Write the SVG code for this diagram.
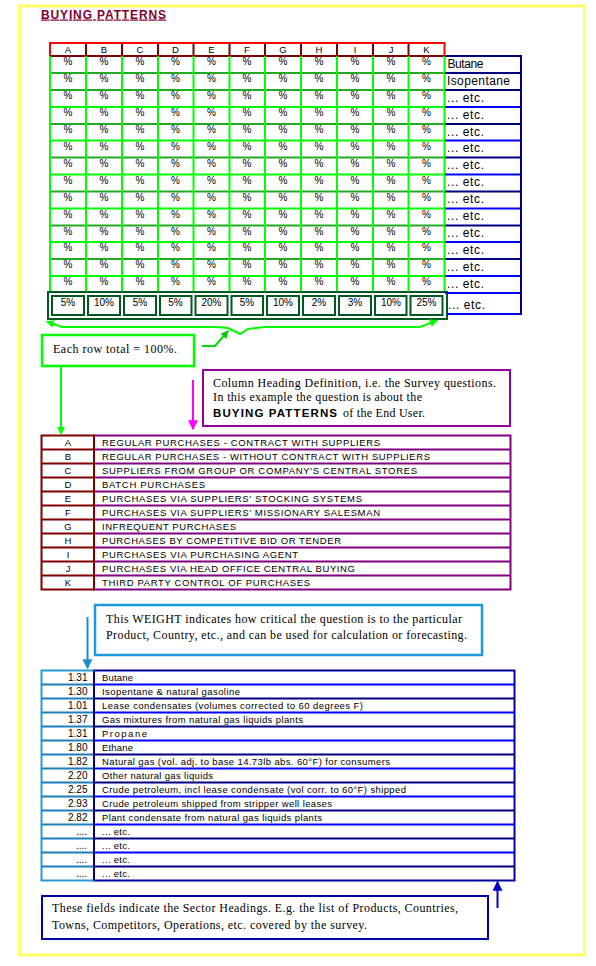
<svg xmlns="http://www.w3.org/2000/svg" width="596" height="966" viewBox="0 0 596 966">
<style>
.sans{font-family:"Liberation Sans",Arial,sans-serif;fill:#000}
.serif{font-family:"Liberation Serif","Times New Roman",serif;font-size:12px;fill:#000}
.pct{font-family:"Liberation Sans",Arial,sans-serif;font-size:10px;text-anchor:middle}
.hdr{font-family:"Liberation Sans",Arial,sans-serif;font-size:9.5px;text-anchor:middle}
.lbl{font-family:"Liberation Sans",Arial,sans-serif;font-size:12px}
.tbl{font-family:"Liberation Sans",Arial,sans-serif;font-size:9.5px}
.num{font-family:"Liberation Sans",Arial,sans-serif;font-size:10px;text-anchor:end}
.gv{stroke:#00ff00;stroke-width:2}
.gh1{stroke:#22aa22;stroke-width:2}
.gh2{stroke:#00ff00;stroke-width:2}
.bl1{stroke:#000080;stroke-width:2}
.bl2{stroke:#0000ff;stroke-width:2}
.pu{stroke:#800080;stroke-width:2}
.dr{stroke:#800000;stroke-width:2}
.tt{fill:none;stroke:#00591f;stroke-width:2}
.conn{fill:none;stroke-width:2}
</style>
<defs>
<marker id="ah-g" viewBox="0 0 8 8" refX="7" refY="4" markerWidth="4" markerHeight="4" orient="auto-start-reverse"><path d="M0,0 L8,4 L0,8 z" fill="#00ff00"/></marker>
<marker id="ah-gd" viewBox="0 0 8 8" refX="7" refY="4" markerWidth="4" markerHeight="4" orient="auto"><path d="M0,0 L8,4 L0,8 z" fill="#00cc00"/></marker>
<marker id="ah-m" viewBox="0 0 8 8" refX="7" refY="4" markerWidth="5" markerHeight="5" orient="auto"><path d="M0,0 L8,4 L0,8 z" fill="#ff00ff"/></marker>
<marker id="ah-t" viewBox="0 0 8 8" refX="7" refY="4" markerWidth="5" markerHeight="5" orient="auto"><path d="M0,0 L8,4 L0,8 z" fill="#1a8fd0"/></marker>
<marker id="ah-b" viewBox="0 0 8 8" refX="7" refY="4" markerWidth="5" markerHeight="5" orient="auto"><path d="M0,0 L8,4 L0,8 z" fill="#0000cc"/></marker>
</defs>
<rect x="0" y="0" width="596" height="966" fill="#fff"/>
<rect id="frame" x="19.5" y="6" width="565" height="949" fill="none" stroke="#ffff66" stroke-width="3"/>

<g id="title"><text class="sans" x="41" y="18.5" font-size="12" font-weight="bold" style="fill:#800030" text-decoration="underline" textLength="125" lengthAdjust="spacing">BUYING PATTERNS</text></g>

<g id="grid">
<rect x="50" y="43" width="394.5" height="13" fill="#fff" stroke="#ff0000" stroke-width="2"/>
<g class="dr">
<line x1="86" y1="43" x2="86" y2="56"/><line x1="122" y1="43" x2="122" y2="56"/><line x1="158" y1="43" x2="158" y2="56"/><line x1="193.5" y1="43" x2="193.5" y2="56"/><line x1="229.5" y1="43" x2="229.5" y2="56"/><line x1="265" y1="43" x2="265" y2="56"/><line x1="301" y1="43" x2="301" y2="56"/><line x1="337" y1="43" x2="337" y2="56"/><line x1="373" y1="43" x2="373" y2="56"/><line x1="408.5" y1="43" x2="408.5" y2="56"/>
<line x1="50" y1="56" x2="444.5" y2="56"/>
</g>
<g>
<text class="hdr" x="68" y="53">A</text><text class="hdr" x="104" y="53">B</text><text class="hdr" x="140" y="53">C</text><text class="hdr" x="175.5" y="53">D</text><text class="hdr" x="211.5" y="53">E</text><text class="hdr" x="247" y="53">F</text><text class="hdr" x="283" y="53">G</text><text class="hdr" x="319" y="53">H</text><text class="hdr" x="355" y="53">I</text><text class="hdr" x="391" y="53">J</text><text class="hdr" x="426.5" y="53">K</text>
</g>
<g>
<line class="gh1" x1="50" y1="73" x2="444.5" y2="73"/>
<line class="gh1" x1="50" y1="90" x2="444.5" y2="90"/>
<line class="gh2" x1="50" y1="107" x2="444.5" y2="107"/>
<line class="gh1" x1="50" y1="124" x2="444.5" y2="124"/>
<line class="gh2" x1="50" y1="140.5" x2="444.5" y2="140.5"/>
<line class="gh1" x1="50" y1="157.5" x2="444.5" y2="157.5"/>
<line class="gh2" x1="50" y1="174.5" x2="444.5" y2="174.5"/>
<line class="gh1" x1="50" y1="191.5" x2="444.5" y2="191.5"/>
<line class="gh2" x1="50" y1="208.5" x2="444.5" y2="208.5"/>
<line class="gh1" x1="50" y1="225.5" x2="444.5" y2="225.5"/>
<line class="gh2" x1="50" y1="242" x2="444.5" y2="242"/>
<line class="gh1" x1="50" y1="259" x2="444.5" y2="259"/>
<line class="gh2" x1="50" y1="276" x2="444.5" y2="276"/>
</g>
<g class="gv">
<line x1="50" y1="56" x2="50" y2="293"/><line x1="86" y1="56" x2="86" y2="293"/><line x1="122" y1="56" x2="122" y2="293"/><line x1="158" y1="56" x2="158" y2="293"/><line x1="193.5" y1="56" x2="193.5" y2="293"/><line x1="229.5" y1="56" x2="229.5" y2="293"/><line x1="265" y1="56" x2="265" y2="293"/><line x1="301" y1="56" x2="301" y2="293"/><line x1="337" y1="56" x2="337" y2="293"/><line x1="373" y1="56" x2="373" y2="293"/><line x1="408.5" y1="56" x2="408.5" y2="293"/><line x1="444.5" y1="56" x2="444.5" y2="293"/>
</g>
<g id="pct-rows" class="pct">
<g transform="translate(0,0)"><text x="68" y="65">%</text><text x="104" y="65">%</text><text x="140" y="65">%</text><text x="175.5" y="65">%</text><text x="211.5" y="65">%</text><text x="247" y="65">%</text><text x="283" y="65">%</text><text x="319" y="65">%</text><text x="355" y="65">%</text><text x="391" y="65">%</text><text x="426.5" y="65">%</text></g>
<g transform="translate(0,17)"><text x="68" y="65">%</text><text x="104" y="65">%</text><text x="140" y="65">%</text><text x="175.5" y="65">%</text><text x="211.5" y="65">%</text><text x="247" y="65">%</text><text x="283" y="65">%</text><text x="319" y="65">%</text><text x="355" y="65">%</text><text x="391" y="65">%</text><text x="426.5" y="65">%</text></g>
<g transform="translate(0,34)"><text x="68" y="65">%</text><text x="104" y="65">%</text><text x="140" y="65">%</text><text x="175.5" y="65">%</text><text x="211.5" y="65">%</text><text x="247" y="65">%</text><text x="283" y="65">%</text><text x="319" y="65">%</text><text x="355" y="65">%</text><text x="391" y="65">%</text><text x="426.5" y="65">%</text></g>
<g transform="translate(0,51)"><text x="68" y="65">%</text><text x="104" y="65">%</text><text x="140" y="65">%</text><text x="175.5" y="65">%</text><text x="211.5" y="65">%</text><text x="247" y="65">%</text><text x="283" y="65">%</text><text x="319" y="65">%</text><text x="355" y="65">%</text><text x="391" y="65">%</text><text x="426.5" y="65">%</text></g>
<g transform="translate(0,68)"><text x="68" y="65">%</text><text x="104" y="65">%</text><text x="140" y="65">%</text><text x="175.5" y="65">%</text><text x="211.5" y="65">%</text><text x="247" y="65">%</text><text x="283" y="65">%</text><text x="319" y="65">%</text><text x="355" y="65">%</text><text x="391" y="65">%</text><text x="426.5" y="65">%</text></g>
<g transform="translate(0,84.5)"><text x="68" y="65">%</text><text x="104" y="65">%</text><text x="140" y="65">%</text><text x="175.5" y="65">%</text><text x="211.5" y="65">%</text><text x="247" y="65">%</text><text x="283" y="65">%</text><text x="319" y="65">%</text><text x="355" y="65">%</text><text x="391" y="65">%</text><text x="426.5" y="65">%</text></g>
<g transform="translate(0,101.5)"><text x="68" y="65">%</text><text x="104" y="65">%</text><text x="140" y="65">%</text><text x="175.5" y="65">%</text><text x="211.5" y="65">%</text><text x="247" y="65">%</text><text x="283" y="65">%</text><text x="319" y="65">%</text><text x="355" y="65">%</text><text x="391" y="65">%</text><text x="426.5" y="65">%</text></g>
<g transform="translate(0,118.5)"><text x="68" y="65">%</text><text x="104" y="65">%</text><text x="140" y="65">%</text><text x="175.5" y="65">%</text><text x="211.5" y="65">%</text><text x="247" y="65">%</text><text x="283" y="65">%</text><text x="319" y="65">%</text><text x="355" y="65">%</text><text x="391" y="65">%</text><text x="426.5" y="65">%</text></g>
<g transform="translate(0,135.5)"><text x="68" y="65">%</text><text x="104" y="65">%</text><text x="140" y="65">%</text><text x="175.5" y="65">%</text><text x="211.5" y="65">%</text><text x="247" y="65">%</text><text x="283" y="65">%</text><text x="319" y="65">%</text><text x="355" y="65">%</text><text x="391" y="65">%</text><text x="426.5" y="65">%</text></g>
<g transform="translate(0,152.5)"><text x="68" y="65">%</text><text x="104" y="65">%</text><text x="140" y="65">%</text><text x="175.5" y="65">%</text><text x="211.5" y="65">%</text><text x="247" y="65">%</text><text x="283" y="65">%</text><text x="319" y="65">%</text><text x="355" y="65">%</text><text x="391" y="65">%</text><text x="426.5" y="65">%</text></g>
<g transform="translate(0,169.5)"><text x="68" y="65">%</text><text x="104" y="65">%</text><text x="140" y="65">%</text><text x="175.5" y="65">%</text><text x="211.5" y="65">%</text><text x="247" y="65">%</text><text x="283" y="65">%</text><text x="319" y="65">%</text><text x="355" y="65">%</text><text x="391" y="65">%</text><text x="426.5" y="65">%</text></g>
<g transform="translate(0,186)"><text x="68" y="65">%</text><text x="104" y="65">%</text><text x="140" y="65">%</text><text x="175.5" y="65">%</text><text x="211.5" y="65">%</text><text x="247" y="65">%</text><text x="283" y="65">%</text><text x="319" y="65">%</text><text x="355" y="65">%</text><text x="391" y="65">%</text><text x="426.5" y="65">%</text></g>
<g transform="translate(0,203)"><text x="68" y="65">%</text><text x="104" y="65">%</text><text x="140" y="65">%</text><text x="175.5" y="65">%</text><text x="211.5" y="65">%</text><text x="247" y="65">%</text><text x="283" y="65">%</text><text x="319" y="65">%</text><text x="355" y="65">%</text><text x="391" y="65">%</text><text x="426.5" y="65">%</text></g>
<g transform="translate(0,220)"><text x="68" y="65">%</text><text x="104" y="65">%</text><text x="140" y="65">%</text><text x="175.5" y="65">%</text><text x="211.5" y="65">%</text><text x="247" y="65">%</text><text x="283" y="65">%</text><text x="319" y="65">%</text><text x="355" y="65">%</text><text x="391" y="65">%</text><text x="426.5" y="65">%</text></g>
</g>
</g>

<g id="totals">
<rect class="tt" x="48" y="292" width="399" height="27"/>
<rect class="tt" x="52" y="296" width="32" height="19"/><rect class="tt" x="88" y="296" width="32" height="19"/><rect class="tt" x="124" y="296" width="32" height="19"/><rect class="tt" x="160" y="296" width="31.5" height="19"/><rect class="tt" x="195.5" y="296" width="32" height="19"/><rect class="tt" x="231.5" y="296" width="31.5" height="19"/><rect class="tt" x="267" y="296" width="32" height="19"/><rect class="tt" x="303" y="296" width="32" height="19"/><rect class="tt" x="339" y="296" width="32" height="19"/><rect class="tt" x="375" y="296" width="31.5" height="19"/><rect class="tt" x="410.5" y="296" width="32" height="19"/>
<g class="pct">
<text x="68" y="306">5%</text><text x="104" y="306">10%</text><text x="140" y="306">5%</text><text x="175.5" y="306">5%</text><text x="211.5" y="306">20%</text><text x="247" y="306">5%</text><text x="283" y="306">10%</text><text x="319" y="306">2%</text><text x="355" y="306">3%</text><text x="391" y="306">10%</text><text x="426.5" y="306">25%</text>
</g>
</g>

<g id="row-labels">
<line class="bl1" x1="445" y1="56" x2="521" y2="56"/>
<line class="bl1" x1="445" y1="73" x2="521" y2="73"/>
<line class="bl1" x1="445" y1="90" x2="521" y2="90"/>
<line class="bl2" x1="445" y1="107" x2="521" y2="107"/>
<line class="bl1" x1="445" y1="124" x2="521" y2="124"/>
<line class="bl2" x1="445" y1="140.5" x2="521" y2="140.5"/>
<line class="bl1" x1="445" y1="157.5" x2="521" y2="157.5"/>
<line class="bl2" x1="445" y1="174.5" x2="521" y2="174.5"/>
<line class="bl1" x1="445" y1="191.5" x2="521" y2="191.5"/>
<line class="bl2" x1="445" y1="208.5" x2="521" y2="208.5"/>
<line class="bl1" x1="445" y1="225.5" x2="521" y2="225.5"/>
<line class="bl2" x1="445" y1="242" x2="521" y2="242"/>
<line class="bl1" x1="445" y1="259" x2="521" y2="259"/>
<line class="bl2" x1="445" y1="276" x2="521" y2="276"/>
<line class="bl2" x1="445" y1="293" x2="521" y2="293"/>
<line class="bl2" x1="447" y1="314" x2="521" y2="314"/>
<line class="bl1" x1="521" y1="55" x2="521" y2="315"/>
<text class="lbl" x="447.5" y="67.5" textLength="36" lengthAdjust="spacing">Butane</text>
<text class="lbl" x="447" y="84.5" textLength="63" lengthAdjust="spacing">Isopentane</text>
<text class="lbl" x="447" y="101.5" textLength="37" lengthAdjust="spacing">... etc.</text>
<text class="lbl" x="447" y="118.5" textLength="37" lengthAdjust="spacing">... etc.</text>
<text class="lbl" x="447" y="135.5" textLength="37" lengthAdjust="spacing">... etc.</text>
<text class="lbl" x="447" y="152" textLength="37" lengthAdjust="spacing">... etc.</text>
<text class="lbl" x="447" y="169" textLength="37" lengthAdjust="spacing">... etc.</text>
<text class="lbl" x="447" y="186" textLength="37" lengthAdjust="spacing">... etc.</text>
<text class="lbl" x="447" y="203" textLength="37" lengthAdjust="spacing">... etc.</text>
<text class="lbl" x="447" y="220" textLength="37" lengthAdjust="spacing">... etc.</text>
<text class="lbl" x="447" y="237" textLength="37" lengthAdjust="spacing">... etc.</text>
<text class="lbl" x="447" y="253.5" textLength="37" lengthAdjust="spacing">... etc.</text>
<text class="lbl" x="447" y="270.5" textLength="37" lengthAdjust="spacing">... etc.</text>
<text class="lbl" x="447" y="287.5" textLength="37" lengthAdjust="spacing">... etc.</text>
<text class="lbl" x="448" y="308.5" textLength="37" lengthAdjust="spacing">... etc.</text>
</g>

<g id="callout-rowtotal">
<rect x="42" y="335" width="152" height="31" fill="#fff" stroke="#00ff00" stroke-width="2.5"/>
<text class="serif" x="53" y="353" textLength="124" lengthAdjust="spacing">Each row total = 100%.</text>
</g>

<g id="callout-heading">
<rect x="203" y="370" width="307" height="56" fill="#fff" stroke="#990099" stroke-width="2"/>
<text class="serif" x="213" y="386.5" textLength="283" lengthAdjust="spacing">Column Heading Definition, i.e. the Survey questions.</text>
<text class="serif" x="213" y="400.5" textLength="209" lengthAdjust="spacing">In this example the question is about the</text>
<text class="sans" x="213" y="417" font-size="11.5" font-weight="bold" textLength="124" lengthAdjust="spacing">BUYING PATTERNS</text>
<text class="serif" x="343" y="417" textLength="82" lengthAdjust="spacing">of the End User.</text>
</g>

<g id="definitions">
<rect x="94" y="435.5" width="416.5" height="154" fill="#fff" stroke="#800080" stroke-width="2"/>
<g class="pu">
<line x1="94" y1="449.5" x2="510.5" y2="449.5"/><line x1="94" y1="463.5" x2="510.5" y2="463.5"/><line x1="94" y1="477.5" x2="510.5" y2="477.5"/><line x1="94" y1="491.5" x2="510.5" y2="491.5"/><line x1="94" y1="505.5" x2="510.5" y2="505.5"/><line x1="94" y1="519.5" x2="510.5" y2="519.5"/><line x1="94" y1="533.5" x2="510.5" y2="533.5"/><line x1="94" y1="547.5" x2="510.5" y2="547.5"/><line x1="94" y1="561.5" x2="510.5" y2="561.5"/><line x1="94" y1="575.5" x2="510.5" y2="575.5"/>
</g>
<rect x="41.5" y="435.5" width="52.5" height="154" fill="none" stroke="#800000" stroke-width="2"/>
<g class="dr">
<line x1="41.5" y1="449.5" x2="94" y2="449.5"/><line x1="41.5" y1="463.5" x2="94" y2="463.5"/><line x1="41.5" y1="477.5" x2="94" y2="477.5"/><line x1="41.5" y1="491.5" x2="94" y2="491.5"/><line x1="41.5" y1="505.5" x2="94" y2="505.5"/><line x1="41.5" y1="519.5" x2="94" y2="519.5"/><line x1="41.5" y1="533.5" x2="94" y2="533.5"/><line x1="41.5" y1="547.5" x2="94" y2="547.5"/><line x1="41.5" y1="561.5" x2="94" y2="561.5"/><line x1="41.5" y1="575.5" x2="94" y2="575.5"/>
</g>
<g class="hdr">
<text x="68" y="446">A</text><text x="68" y="460">B</text><text x="68" y="474">C</text><text x="68" y="488">D</text><text x="68" y="502">E</text><text x="68" y="516">F</text><text x="68" y="530">G</text><text x="68" y="544">H</text><text x="68" y="558">I</text><text x="68" y="572">J</text><text x="68" y="586">K</text>
</g>
<g class="tbl">
<text x="102" y="446" textLength="278" lengthAdjust="spacing">REGULAR PURCHASES - CONTRACT WITH SUPPLIERS</text>
<text x="102" y="460" textLength="328" lengthAdjust="spacing">REGULAR PURCHASES - WITHOUT CONTRACT WITH SUPPLIERS</text>
<text x="102" y="474" textLength="315" lengthAdjust="spacing">SUPPLIERS FROM GROUP OR COMPANY'S CENTRAL STORES</text>
<text x="102" y="488" textLength="103" lengthAdjust="spacing">BATCH PURCHASES</text>
<text x="102" y="502" textLength="260" lengthAdjust="spacing">PURCHASES VIA SUPPLIERS' STOCKING SYSTEMS</text>
<text x="102" y="516" textLength="278" lengthAdjust="spacing">PURCHASES VIA SUPPLIERS' MISSIONARY SALESMAN</text>
<text x="102" y="530" textLength="134" lengthAdjust="spacing">INFREQUENT PURCHASES</text>
<text x="102" y="544" textLength="239" lengthAdjust="spacing">PURCHASES BY COMPETITIVE BID OR TENDER</text>
<text x="102" y="558" textLength="196" lengthAdjust="spacing">PURCHASES VIA PURCHASING AGENT</text>
<text x="102" y="572" textLength="253" lengthAdjust="spacing">PURCHASES VIA HEAD OFFICE CENTRAL BUYING</text>
<text x="102" y="586" textLength="208" lengthAdjust="spacing">THIRD PARTY CONTROL OF PURCHASES</text>
</g>
</g>

<g id="callout-weight">
<rect x="95" y="605" width="387" height="50" fill="#fff" stroke="#1a9ad6" stroke-width="2.5"/>
<text class="serif" x="106" y="623" textLength="356" lengthAdjust="spacing">This WEIGHT indicates how critical the question is to the particular</text>
<text class="serif" x="106" y="639" textLength="361" lengthAdjust="spacing">Product, Country, etc., and can be used for calculation or forecasting.</text>
</g>

<g id="weights">
<rect x="94" y="670.5" width="420.5" height="210" fill="#fff" stroke="#0000a0" stroke-width="2"/>
<g>
<line class="bl2" x1="94" y1="684.5" x2="514.5" y2="684.5"/><line class="bl1" x1="94" y1="698.5" x2="514.5" y2="698.5"/><line class="bl2" x1="94" y1="712.5" x2="514.5" y2="712.5"/><line class="bl1" x1="94" y1="726.5" x2="514.5" y2="726.5"/><line class="bl2" x1="94" y1="740.5" x2="514.5" y2="740.5"/><line class="bl1" x1="94" y1="754.5" x2="514.5" y2="754.5"/><line class="bl2" x1="94" y1="768.5" x2="514.5" y2="768.5"/><line class="bl1" x1="94" y1="782.5" x2="514.5" y2="782.5"/><line class="bl2" x1="94" y1="796.5" x2="514.5" y2="796.5"/><line class="bl1" x1="94" y1="810.5" x2="514.5" y2="810.5"/><line class="bl2" x1="94" y1="824.5" x2="514.5" y2="824.5"/><line class="bl1" x1="94" y1="838.5" x2="514.5" y2="838.5"/><line class="bl2" x1="94" y1="852.5" x2="514.5" y2="852.5"/><line class="bl1" x1="94" y1="866.5" x2="514.5" y2="866.5"/>
</g>
<rect x="41.5" y="670.5" width="52.5" height="210" fill="none" stroke="#2a9bd0" stroke-width="2"/>
<g stroke="#1e7fb8" stroke-width="2">
<line x1="41.5" y1="684.5" x2="94" y2="684.5"/><line x1="41.5" y1="698.5" x2="94" y2="698.5"/><line x1="41.5" y1="712.5" x2="94" y2="712.5"/><line x1="41.5" y1="726.5" x2="94" y2="726.5"/><line x1="41.5" y1="740.5" x2="94" y2="740.5"/><line x1="41.5" y1="754.5" x2="94" y2="754.5"/><line x1="41.5" y1="768.5" x2="94" y2="768.5"/><line x1="41.5" y1="782.5" x2="94" y2="782.5"/><line x1="41.5" y1="796.5" x2="94" y2="796.5"/><line x1="41.5" y1="810.5" x2="94" y2="810.5"/><line x1="41.5" y1="824.5" x2="94" y2="824.5"/><line x1="41.5" y1="838.5" x2="94" y2="838.5"/><line x1="41.5" y1="852.5" x2="94" y2="852.5"/><line x1="41.5" y1="866.5" x2="94" y2="866.5"/>
</g>
<line x1="94" y1="670.5" x2="94" y2="880.5" stroke="#000080" stroke-width="2"/>
<g class="num">
<text x="87.5" y="680.5">1.31</text><text x="87.5" y="694.5">1.30</text><text x="87.5" y="708.5">1.01</text><text x="87.5" y="722.5">1.37</text><text x="87.5" y="736.5">1.31</text><text x="87.5" y="750.5">1.80</text><text x="87.5" y="764.5">1.82</text><text x="87.5" y="778.5">2.20</text><text x="87.5" y="792.5">2.25</text><text x="87.5" y="806.5">2.93</text><text x="87.5" y="820.5">2.82</text><text x="87" y="834.5">....</text><text x="87" y="848.5">....</text><text x="87" y="862.5">....</text><text x="87" y="876.5">....</text>
</g>
<g class="tbl">
<text x="102" y="680.5" textLength="31" lengthAdjust="spacing">Butane</text>
<text x="102" y="694.5" textLength="138" lengthAdjust="spacing">Isopentane &amp; natural gasoline</text>
<text x="102" y="708.5" textLength="261" lengthAdjust="spacing">Lease condensates (volumes corrected to 60 degrees F)</text>
<text x="102" y="722.5" textLength="201" lengthAdjust="spacing">Gas mixtures from natural gas liquids plants</text>
<text x="102" y="736.5" textLength="45" lengthAdjust="spacing">Propane</text>
<text x="102" y="750.5" textLength="31" lengthAdjust="spacing">Ethane</text>
<text x="102" y="764.5" textLength="288" lengthAdjust="spacing">Natural gas (vol. adj. to base 14.73lb abs. 60°F) for consumers</text>
<text x="102" y="778.5" textLength="111" lengthAdjust="spacing">Other natural gas liquids</text>
<text x="102" y="792.5" textLength="304" lengthAdjust="spacing">Crude petroleum, incl lease condensate (vol corr. to 60°F) shipped</text>
<text x="102" y="806.5" textLength="230" lengthAdjust="spacing">Crude petroleum shipped from stripper well leases</text>
<text x="102" y="820.5" textLength="220" lengthAdjust="spacing">Plant condensate from natural gas liquids plants</text>
<text x="102" y="834.5" textLength="28" lengthAdjust="spacing">... etc.</text>
<text x="102" y="848.5" textLength="28" lengthAdjust="spacing">... etc.</text>
<text x="102" y="862.5" textLength="28" lengthAdjust="spacing">... etc.</text>
<text x="102" y="876.5" textLength="28" lengthAdjust="spacing">... etc.</text>
</g>
</g>

<g id="callout-sectors">
<rect x="42" y="896" width="446" height="43" fill="#fff" stroke="#0000aa" stroke-width="2"/>
<text class="serif" x="52" y="912" textLength="406" lengthAdjust="spacing">These fields indicate the Sector Headings.  E.g. the list of Products, Countries,</text>
<text class="serif" x="52" y="928.5" textLength="315" lengthAdjust="spacing">Towns, Competitors, Operations, etc. covered by the survey.</text>
</g>

<g id="connectors">
<path class="conn" stroke="#00ff00" d="M62 327 L216 327 L228 328 L240 334 L248 329 L264 327 L420 327" />
<path class="conn" stroke="#00ff00" d="M62 327 L47 321.5" marker-end="url(#ah-g)"/>
<path class="conn" stroke="#00ff00" d="M420 327 L437 320.5" marker-end="url(#ah-g)"/>
<path class="conn" stroke="#00dd00" d="M202 346 L215 346 L228 331" marker-end="url(#ah-gd)"/>
<path class="conn" stroke="#00ff00" d="M61 366 L61 434" marker-end="url(#ah-g)"/>
<path class="conn" stroke="#ff00ff" d="M193 380 L193 429" marker-end="url(#ah-m)"/>
<path class="conn" stroke="#1a8fd0" d="M87.5 617 L87.5 668" marker-end="url(#ah-t)"/>
<path class="conn" stroke="#0000cc" d="M497.5 908 L497.5 882" marker-end="url(#ah-b)"/>
</g>
</svg>
